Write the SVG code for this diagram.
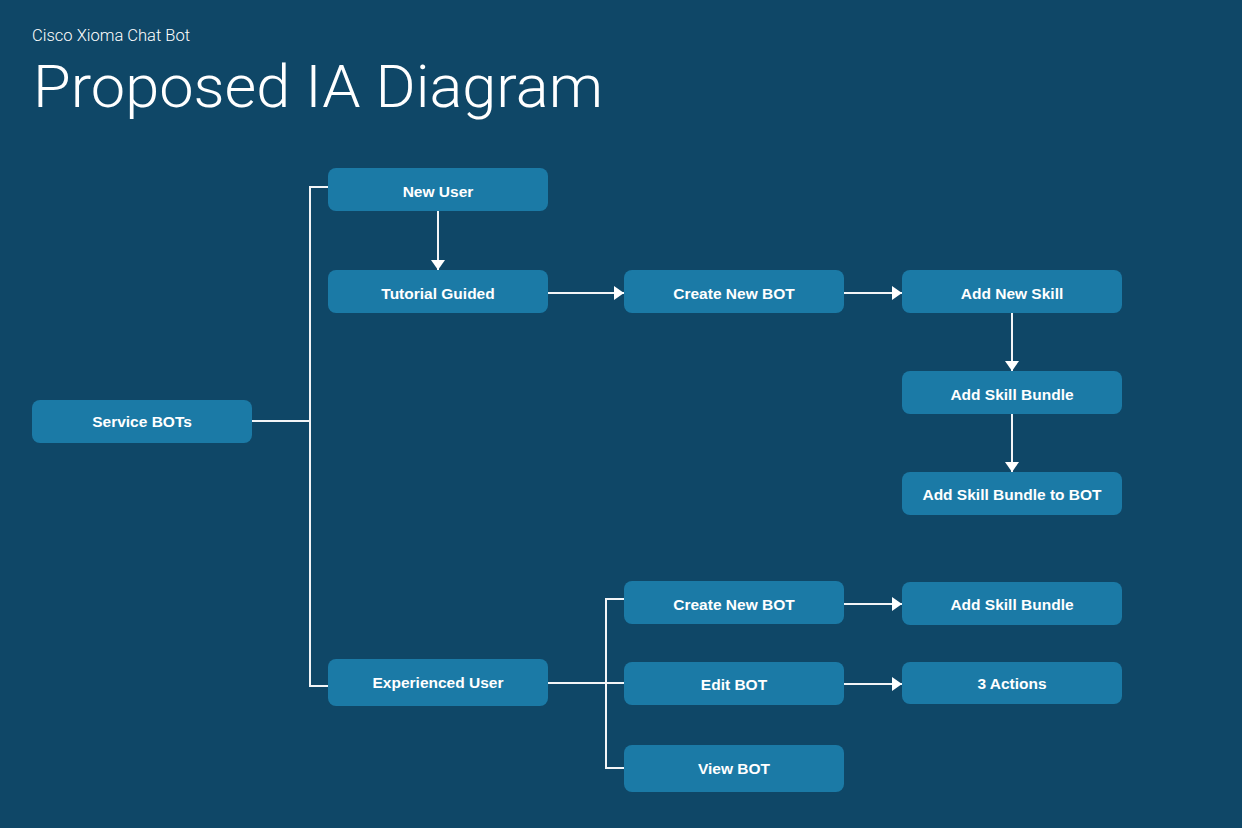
<svg xmlns="http://www.w3.org/2000/svg" width="1242" height="828" viewBox="0 0 1242 828">
<defs>
<style>
.node rect{fill:#1b7aa6;}
.node text{fill:#ffffff;font-family:"Liberation Sans",Arial,sans-serif;font-weight:bold;font-size:15.5px;text-anchor:middle;}
.conn{stroke:#f2f5f7;stroke-width:2;fill:none;}
.title{fill:#ffffff;font-family:Roboto,"Liberation Sans",Arial,sans-serif;font-weight:300;}
</style>
<marker id="arr" markerUnits="userSpaceOnUse" markerWidth="12" markerHeight="16" refX="10" refY="7" orient="auto">
<path d="M0,0 L10,7 L0,14 Z" fill="#ffffff"/>
</marker>
</defs>
<rect x="0" y="0" width="1242" height="828" fill="#0f4767"/>
<text class="title" x="32" y="41" font-size="16" textLength="158" lengthAdjust="spacingAndGlyphs">Cisco Xioma Chat Bot</text>
<text class="title" x="33" y="107" font-size="60" font-weight="200" textLength="570" lengthAdjust="spacingAndGlyphs">Proposed IA Diagram</text>
<g id="connectors">
<polyline class="conn" points="252,421 310,421"/>
<polyline class="conn" points="328,187 310,187 310,686 328,686"/>
<line class="conn" x1="438" y1="211" x2="438" y2="270" marker-end="url(#arr)"/>
<line class="conn" x1="548" y1="293" x2="624" y2="293" marker-end="url(#arr)"/>
<line class="conn" x1="844" y1="293" x2="902" y2="293" marker-end="url(#arr)"/>
<line class="conn" x1="1012" y1="313" x2="1012" y2="371" marker-end="url(#arr)"/>
<line class="conn" x1="1012" y1="414" x2="1012" y2="472" marker-end="url(#arr)"/>
<polyline class="conn" points="548,683 624,683"/>
<polyline class="conn" points="624,599 606,599 606,768 624,768"/>
<line class="conn" x1="844" y1="604" x2="902" y2="604" marker-end="url(#arr)"/>
<line class="conn" x1="844" y1="684" x2="902" y2="684" marker-end="url(#arr)"/>
</g>
<g id="service-bots" class="node"><rect x="32" y="400" width="220" height="43" rx="8"/><text x="142" y="427">Service BOTs</text></g>
<g id="new-user" class="node"><rect x="328" y="168" width="220" height="43" rx="8"/><text x="438" y="197">New User</text></g>
<g id="tutorial-guided" class="node"><rect x="328" y="270" width="220" height="43" rx="8"/><text x="438" y="299">Tutorial Guided</text></g>
<g id="experienced-user" class="node"><rect x="328" y="659" width="220" height="47" rx="8"/><text x="438" y="688">Experienced User</text></g>
<g id="create-new-bot-1" class="node"><rect x="624" y="270" width="220" height="43" rx="8"/><text x="734" y="299">Create New BOT</text></g>
<g id="add-new-skill" class="node"><rect x="902" y="270" width="220" height="43" rx="8"/><text x="1012" y="299">Add New Skill</text></g>
<g id="add-skill-bundle-1" class="node"><rect x="902" y="371" width="220" height="43" rx="8"/><text x="1012" y="400">Add Skill Bundle</text></g>
<g id="add-skill-bundle-to-bot" class="node"><rect x="902" y="472" width="220" height="43" rx="8"/><text x="1012" y="500">Add Skill Bundle to BOT</text></g>
<g id="create-new-bot-2" class="node"><rect x="624" y="581" width="220" height="43" rx="8"/><text x="734" y="610">Create New BOT</text></g>
<g id="edit-bot" class="node"><rect x="624" y="662" width="220" height="43" rx="8"/><text x="734" y="690">Edit BOT</text></g>
<g id="view-bot" class="node"><rect x="624" y="745" width="220" height="47" rx="8"/><text x="734" y="774">View BOT</text></g>
<g id="add-skill-bundle-2" class="node"><rect x="902" y="582" width="220" height="43" rx="8"/><text x="1012" y="610">Add Skill Bundle</text></g>
<g id="three-actions" class="node"><rect x="902" y="662" width="220" height="42" rx="8"/><text x="1012" y="689">3 Actions</text></g>
</svg>
